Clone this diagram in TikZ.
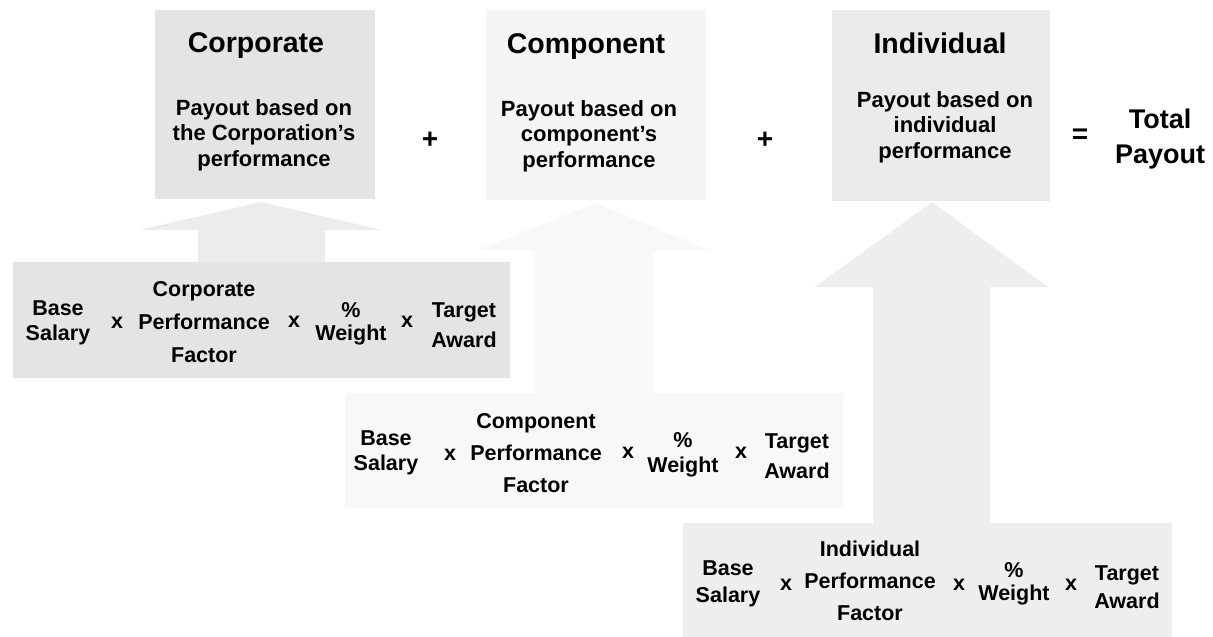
\documentclass[tikz,border=0pt]{standalone}
\usepackage{fontspec}
\setmainfont{Liberation Sans}
\definecolor{corpbox}{HTML}{E4E4E4}
\definecolor{corparrow}{HTML}{ECECEC}
\definecolor{compbox}{HTML}{F5F5F5}
\definecolor{comparrow}{HTML}{F8F8F8}
\definecolor{indbox}{HTML}{EBEBEB}
\definecolor{indarrow}{HTML}{EEEEEE}
\begin{document}
\begin{tikzpicture}[x=1pt,y=-1pt,
  panel/.style={draw=none,inner sep=0pt,outer sep=0pt},
  title/.style={font=\fontsize{28.5}{34}\selectfont\bfseries,inner sep=0pt,anchor=base},
  body/.style={font=\fontsize{22}{25.5}\selectfont\bfseries,align=center,inner sep=0pt,anchor=base},
  term/.style={font=\fontsize{21.5}{#1}\selectfont\bfseries,align=center,inner sep=0pt,anchor=base},
  op/.style={font=\fontsize{21.5}{26}\selectfont\bfseries,inner sep=0pt,anchor=base},
  sign/.style={font=\fontsize{28}{30}\selectfont\bfseries,inner sep=0pt,anchor=center},
  total/.style={font=\fontsize{27}{35}\selectfont\bfseries,align=center,inner sep=0pt,anchor=base}]
\useasboundingbox (0,0) rectangle (1213,637);

% block arrows feeding each payout
\fill[corparrow] (261,202) -- (382,230) -- (325,230) -- (325,270) -- (198,270) -- (198,230) -- (140,230) -- cycle;
\fill[comparrow] (595,203) -- (710,250) -- (653,250) -- (653,400) -- (535,400) -- (535,250) -- (478,250) -- cycle;
\fill[indarrow] (932,202) -- (1048,287) -- (990,287) -- (990,530) -- (873,530) -- (873,287) -- (815,287) -- cycle;

% payout panels
\node[panel,fill=corpbox,minimum width=220pt,minimum height=189pt] (corp) at (265,104.5) {};
\node[panel,fill=compbox,minimum width=220pt,minimum height=190pt] (comp) at (596,105) {};
\node[panel,fill=indbox,minimum width=218pt,minimum height=191pt] (ind) at (941,105.5) {};

% multi-line nodes are placed by the baseline of their last line
\node[title] (corpT) at (256,52) {Corporate};
\node[body] (corpB) at (264,166) {Payout based on\\the Corporation’s\\performance};
\node[title] (compT) at (586,53) {Component};
\node[body] (compB) at (589,167) {Payout based on\\component’s\\performance};
\node[title] (indT) at (940,53) {Individual};
\node[body] (indB) at (945,158) {Payout based on\\individual\\performance};

\node[sign] (plusA) at (430,140) {+};
\node[sign] (plusB) at (765,140) {+};
\node[sign] (eq) at (1080,136) {=};
\node[total] (tot) at (1160,163) {Total\\Payout};

% formula panels
\node[panel,fill=corpbox,minimum width=497pt,minimum height=116pt] (fc) at (261.5,320) {};
\node[panel,fill=comparrow,minimum width=498pt,minimum height=115pt] (fm) at (594,450.5) {};
\node[panel,fill=indarrow,minimum width=489pt,minimum height=114pt] (fi) at (927.5,580) {};

% corporate formula
\node[term=25] (c1) at (58,340) {Base\\Salary};
\node[op] (cx1) at (117,328) {x};
\node[term=33] (c2) at (204,362) {Corporate\\Performance\\Factor};
\node[op] (cx2) at (294,327) {x};
\node[term=23] (c3) at (351,340) {\%\\Weight};
\node[op] (cx3) at (407,327) {x};
\node[term=30] (c4) at (464,347) {Target\\Award};

% component formula
\node[term=25] (m1) at (386,470) {Base\\Salary};
\node[op] (mx1) at (450,460) {x};
\node[term=32] (m2) at (536,492) {Component\\Performance\\Factor};
\node[op] (mx2) at (628,458) {x};
\node[term=25] (m3) at (683,472) {\%\\Weight};
\node[op] (mx3) at (741,458) {x};
\node[term=30] (m4) at (797,478) {Target\\Award};

% individual formula
\node[term=27] (i1) at (728,602) {Base\\Salary};
\node[op] (ix1) at (786,590) {x};
\node[term=32] (i2) at (870,620) {Individual\\Performance\\Factor};
\node[op] (ix2) at (959,590) {x};
\node[term=23] (i3) at (1014,600) {\%\\Weight};
\node[op] (ix3) at (1071,590) {x};
\node[term=28] (i4) at (1127,608) {Target\\Award};
\end{tikzpicture}
\end{document}
